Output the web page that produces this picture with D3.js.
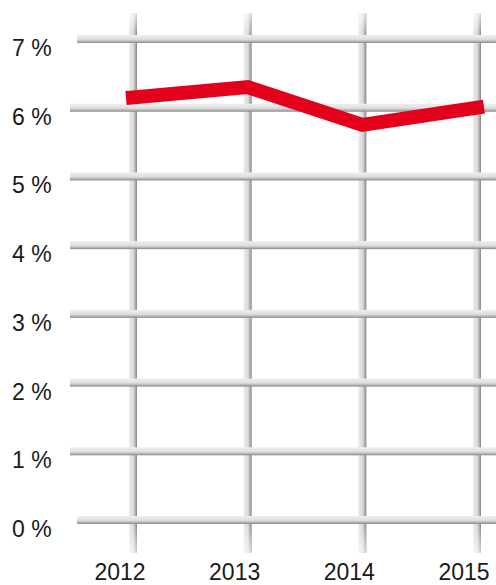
<!DOCTYPE html>
<html>
<head>
<meta charset="utf-8">
<script src="https://cdn.jsdelivr.net/npm/d3@7"></script>
<style>
  body { margin: 0; background: #fff; }
  svg { display: block; }
  text { font-family: "Liberation Sans", Arial, Helvetica, sans-serif; fill: #1a1a1a; }
</style>
</head>
<body>
<svg width="496" height="585"></svg>
<script>
var years = ["2012", "2013", "2014", "2015"];
var values = [6.15, 6.3, 5.75, 6.0];
var yTicks = [0, 1, 2, 3, 4, 5, 6, 7];

var svg = d3.select("svg"),
    width = +svg.attr("width"),
    height = +svg.attr("height");

var x = d3.scalePoint().domain(years).range([133, 477]);
var y = d3.scaleLinear().domain([0, 7]).range([520, 39]);

// gradients for the metal bars
var defs = svg.append("defs");
var hGrad = defs.append("linearGradient")
    .attr("id", "hbar").attr("x1", 0).attr("y1", 0).attr("x2", 0).attr("y2", 1);
hGrad.append("stop").attr("offset", "0%").attr("stop-color", "#efefef");
hGrad.append("stop").attr("offset", "55%").attr("stop-color", "#dedede");
hGrad.append("stop").attr("offset", "78%").attr("stop-color", "#b8b8b8");
hGrad.append("stop").attr("offset", "100%").attr("stop-color", "#868686");

var vGrad = defs.append("linearGradient")
    .attr("id", "vbar").attr("x1", 0).attr("y1", 0).attr("x2", 1).attr("y2", 0);
vGrad.append("stop").attr("offset", "0%").attr("stop-color", "#ebebeb");
vGrad.append("stop").attr("offset", "55%").attr("stop-color", "#dadada");
vGrad.append("stop").attr("offset", "78%").attr("stop-color", "#b0b0b0");
vGrad.append("stop").attr("offset", "100%").attr("stop-color", "#858585");

var fade = defs.append("linearGradient")
    .attr("id", "fade").attr("x1", 0).attr("y1", 0).attr("x2", 0).attr("y2", 1);
fade.append("stop").attr("offset", "0%").attr("stop-color", "#fff").attr("stop-opacity", 0.7);
fade.append("stop").attr("offset", "4%").attr("stop-color", "#fff").attr("stop-opacity", 0);
fade.append("stop").attr("offset", "95%").attr("stop-color", "#fff").attr("stop-opacity", 0);
fade.append("stop").attr("offset", "100%").attr("stop-color", "#fff").attr("stop-opacity", 0.6);

// vertical bars
var vbars = svg.append("g").attr("class", "vbars");
vbars.selectAll("rect.v")
    .data(years)
    .enter().append("rect")
      .attr("class", "v")
      .attr("x", function(d) { return x(d) - 4; })
      .attr("y", 13)
      .attr("width", 8)
      .attr("height", 540)
      .attr("fill", "url(#vbar)");
vbars.selectAll("rect.f")
    .data(years)
    .enter().append("rect")
      .attr("class", "f")
      .attr("x", function(d) { return x(d) - 4; })
      .attr("y", 13)
      .attr("width", 8)
      .attr("height", 540)
      .attr("fill", "url(#fade)");

// horizontal bars
svg.append("g").attr("class", "hbars")
  .selectAll("rect")
  .data(yTicks)
  .enter().append("rect")
    .attr("x", function(d) { return (d == 0 || d == 7) ? 77 : 70; })
    .attr("y", function(d) { return y(d) - 4; })
    .attr("width", width)
    .attr("height", 8)
    .attr("fill", "url(#hbar)");

// y labels
svg.append("g")
  .selectAll("text")
  .data(yTicks)
  .enter().append("text")
    .attr("x", 12)
    .attr("y", function(d) { return y(d) + 17; })
    .attr("font-size", 23)
    .text(function(d) { return d + " %"; });

// x labels, set a bit left of their bars
svg.append("g")
  .selectAll("text")
  .data(years)
  .enter().append("text")
    .attr("x", function(d) { return x(d) - 13; })
    .attr("y", 580)
    .attr("text-anchor", "middle")
    .attr("font-size", 23)
    .text(function(d) { return d; });

// the red line
var line = d3.line()
    .x(function(d, i) { return x(years[i]); })
    .y(function(d) { return y(d); });

svg.append("path")
    .datum(values)
    .attr("d", line)
    .attr("fill", "none")
    .attr("stroke", "#e2001a")
    .attr("stroke-width", 14)
    .attr("stroke-linejoin", "miter")
    .attr("stroke-linecap", "square");
</script>
</body>
</html>
